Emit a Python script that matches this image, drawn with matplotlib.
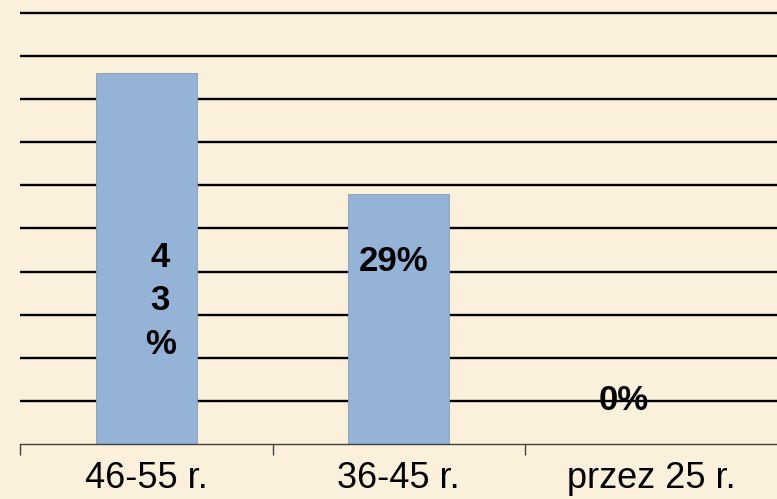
import matplotlib
matplotlib.use("Agg")
import matplotlib.pyplot as plt
import numpy as np

plt.rcParams["font.family"] = ["Liberation Sans", "DejaVu Sans"]

categories = ["46-55 r.", "36-45 r.", "przez 25 r."]
values = [43, 29, 0]
labels = ["4\n3\n%", "29%", "0%"]
grid_levels = np.arange(5, 55, 5)

BG = "#FBF0DC"
BAR = "#95B3D7"

fig = plt.figure(figsize=(7.77, 4.99), dpi=100, facecolor=BG)
ax = fig.add_axes([20 / 777, 55 / 499, 757.5 / 777, 444 / 499])
ax.set_facecolor(BG)

x = np.arange(len(categories))
ax.set_xlim(-0.5, 2.5)
ax.set_ylim(0, 51.5)

for g in grid_levels:
    ax.axhline(g, color="black", linewidth=1.7, zorder=1)

ax.bar(x, values, width=0.4, color=BAR, edgecolor="#8A9BB0", linewidth=0.6, zorder=2)

# value labels
ax.text(0.055, 16.6, labels[0], ha="center", va="center", fontsize=25,
        fontweight="bold", linespacing=1.4, zorder=3)
ax.text(0.98, 21.2, labels[1], ha="center", va="center", fontsize=25,
        fontweight="bold", zorder=3)
ax.text(1.89, 5.1, labels[2], ha="center", va="center", fontsize=25,
        fontweight="bold", zorder=3)

for s in ["top", "right", "left"]:
    ax.spines[s].set_visible(False)
ax.spines["bottom"].set_color("#404040")
ax.spines["bottom"].set_linewidth(1.0)

ax.set_yticks([])
ax.set_xticks([-0.5, 0.5, 1.5, 2.5])
ax.set_xticklabels([])
ax.set_xticks(x, minor=True)
ax.set_xticklabels(categories, minor=True, fontsize=26)
ax.tick_params(axis="x", which="major", direction="out", length=8, width=1, color="#404040")
ax.tick_params(axis="x", which="minor", length=0, pad=12)

fig.savefig("out.png", dpi=100, facecolor=BG)
